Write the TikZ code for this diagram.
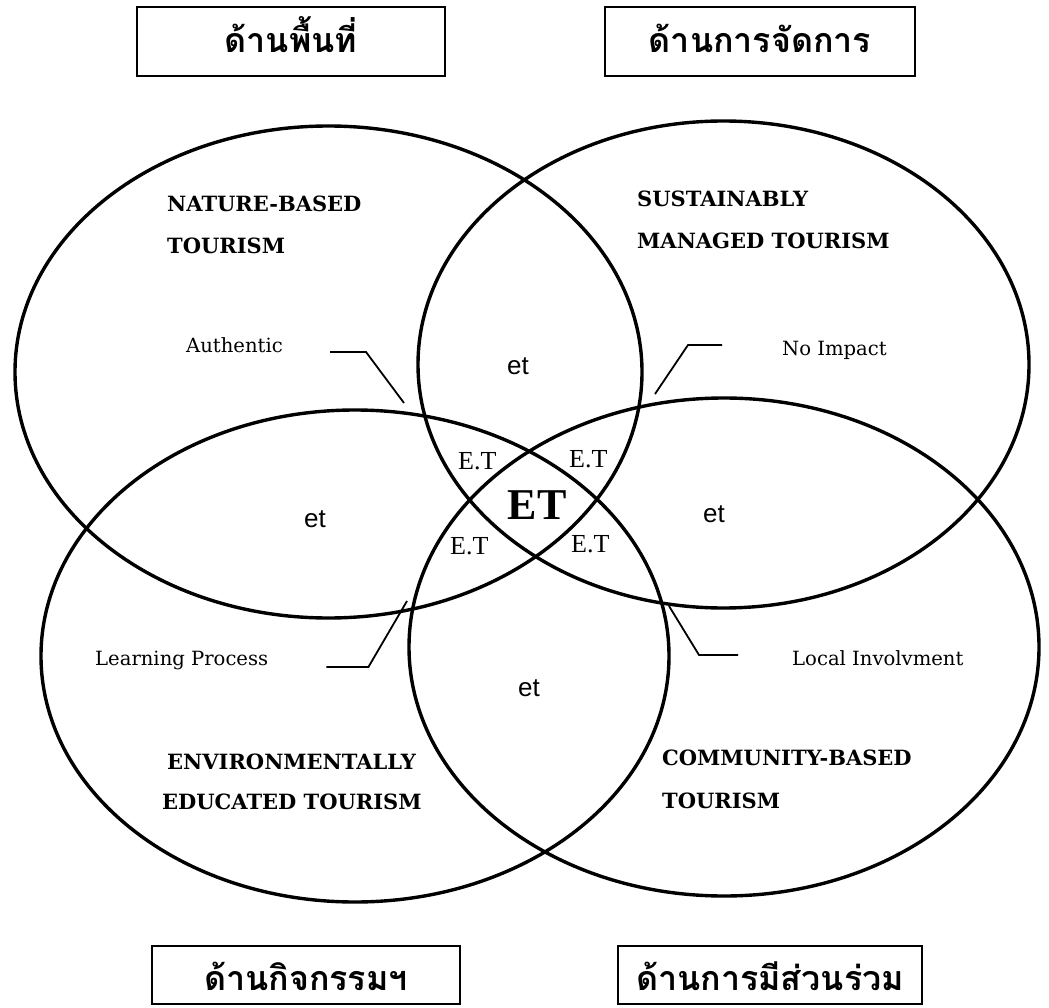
\documentclass[tikz,border=0pt]{standalone}
\usepackage{fontspec}
\setmainfont{DejaVu Serif}
\newfontfamily\thaifont[Script=Thai]{Loma}
\newfontfamily\timesfont{Liberation Serif}
\newfontfamily\helvfont{Liberation Sans}
\usetikzlibrary{shapes.geometric, positioning, calc}

\begin{document}
\begin{tikzpicture}[
    x=1pt, y=-1pt,
    ring/.style={draw, ellipse, line width=3.4pt, inner sep=0pt},
    aspect/.style={draw, rectangle, line width=2pt, minimum width=308pt, minimum height=69pt, text depth=0pt, font=\thaifont\bfseries\fontsize{34}{40}\selectfont},
    kind/.style={anchor=base west, inner sep=0pt, font=\bfseries\fontsize{21}{24}\selectfont},
    tag/.style={anchor=base west, inner sep=0pt, font=\fontsize{19.6}{23}\selectfont},
    sub/.style={anchor=base west, inner sep=0pt, font=\helvfont\fontsize{26}{30}\selectfont},
    pair/.style={anchor=base west, inner sep=0pt, font=\timesfont\fontsize{26}{30}\selectfont},
    leader/.style={line width=1.8pt}
]
\useasboundingbox (0,0) rectangle (1049,1008);
\fill[white] (0,0) rectangle (1049,1008);

% Four tourism ellipses
\node[ring, minimum width=627pt, minimum height=492pt] (nature) at (328.5,372) {};
\node[ring, minimum width=611pt, minimum height=487pt] (sustain) at (723.5,364.5) {};
\node[ring, minimum width=628pt, minimum height=492pt] (educate) at (355,656) {};
\node[ring, minimum width=630pt, minimum height=498pt] (community) at (724,647) {};

% Aspect boxes
\node[aspect, text height=23pt] (area) at (291,41.5) {ด้านพื้นที่};
\node[aspect, minimum width=310pt, text height=23pt] (manage) at (760,41.5) {ด้านการจัดการ};
\node[aspect, minimum height=58pt, text height=30pt] (activity) at (306,975) {ด้านกิจกรรมฯ};
\node[aspect, minimum width=304pt, minimum height=58pt, text height=30pt] (share) at (770,975) {ด้านการมีส่วนร่วม};

% Ellipse titles
\node[kind] (natureA) at (167,212) {NATURE-BASED};
\node[kind] (natureB) at (167,254) {TOURISM};
\node[kind] (sustainA) at (637,207) {SUSTAINABLY};
\node[kind] (sustainB) at (637,249) {MANAGED TOURISM};
\node[kind] (educateA) at (167,769) {ENVIRONMENTALLY};
\node[kind] (educateB) at (162,809) {EDUCATED TOURISM};
\node[kind] (communityA) at (662,765) {COMMUNITY-BASED};
\node[kind] (communityB) at (662,808) {TOURISM};

% Overlap labels
\node[sub] (etN) at (507,374) {et};
\node[sub] (etW) at (304,527) {et};
\node[sub] (etE) at (703,522) {et};
\node[sub] (etS) at (518,696) {et};
\node[pair] (etNW) at (458,469) {E.T};
\node[pair] (etNE) at (569,467) {E.T};
\node[pair] (etSW) at (450,554) {E.T};
\node[pair] (etSE) at (571,552) {E.T};
\node[anchor=base, inner sep=0pt, font=\timesfont\bfseries\fontsize{44}{50}\selectfont] (core) at (537,519) {ET};

% Principles with leaders
\node[tag] (authentic) at (186,352) {Authentic};
\node[tag] (noimpact) at (782,355) {No Impact};
\node[tag] (learning) at (95,665) {Learning Process};
\node[tag] (local) at (792,665) {Local Involvment};

\coordinate (authTip) at (404,403);
\coordinate (impactTip) at (655,394);
\coordinate (learnTip) at (407,601);
\coordinate (localTip) at (669,606);

\draw[leader] ([xshift=47pt]authentic.base east) -- ++(36,0) -- (authTip);
\draw[leader] ([xshift=-60pt, yshift=10pt]noimpact.base west) -- ++(-34,0) -- (impactTip);
\draw[leader] ([xshift=58pt, yshift=-2pt]learning.base east) -- ++(42,0) -- (learnTip);
\draw[leader] ([xshift=-54pt, yshift=10pt]local.base west) -- ++(-39,0) -- (localTip);
\end{tikzpicture}
\end{document}
